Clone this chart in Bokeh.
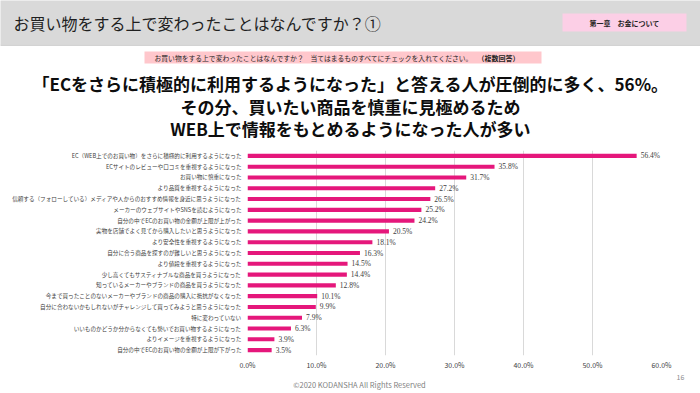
from bokeh.plotting import figure
from bokeh.models import (ColumnDataSource, Range1d, FixedTicker,
                          PrintfTickFormatter, LabelSet, Label)
from bokeh.layouts import column
from bokeh.embed import file_html
from bokeh.resources import INLINE

FONT = "Noto Sans CJK JP"

categories = [
    "EC（WEB上でのお買い物）をさらに積極的に利用するようになった",
    "ECサイトのレビューや口コミを重視するようになった",
    "お買い物に慎重になった",
    "より品質を重視するようになった",
    "信頼する（フォローしている）メディアや人からのおすすめ情報を身近に思うようになった",
    "メーカーのウェブサイトやSNSを読むようになった",
    "自分の中でECのお買い物の金額が上限が上がった",
    "実物を店舗でよく見てから購入したいと思うようになった",
    "より安全性を重視するようになった",
    "自分に合う商品を探すのが難しいと思うようになった",
    "より値段を重視するようになった",
    "少し高くてもサスティナブルな商品を買うようになった",
    "知っているメーカーやブランドの商品を買うようになった",
    "今まで買ったことのないメーカーやブランドの商品の購入に抵抗がなくなった",
    "自分に合わないかもしれないがチャレンジして買ってみようと思うようになった",
    "特に変わっていない",
    "いいものかどうか分からなくても勢いでお買い物するようになった",
    "よりイメージを重視するようになった",
    "自分の中でECのお買い物の金額が上限が下がった",
]
values = [56.4, 35.8, 31.7, 27.2, 26.5, 25.2, 24.2, 20.5, 18.1, 16.3,
          14.5, 14.4, 12.8, 10.1, 9.9, 7.9, 6.3, 3.9, 3.5]
x_ticks = [0, 10, 20, 30, 40, 50, 60]

page_title = "お買い物をする上で変わったことはなんですか？①"
chapter = "第一章　お金について"
question = "お買い物をする上で変わったことはなんですか？　当てはまるものすべてにチェックを入れてください。"
question_note = "（複数回答）"
headline = [
    "「ECをさらに積極的に利用するようになった」と答える人が圧倒的に多く、56%。",
    "その分、買いたい商品を慎重に見極めるため",
    "WEB上で情報をもとめるようになった人が多い",
]
footer_text = "©2020 KODANSHA All Rights Reserved"
page_no = "16"

W = 700

def no_align(f):
    if "frame_align" in f.properties():
        f.frame_align = False
    return f

def blank(h):
    f = figure(width=W, height=h, x_range=Range1d(0, W), y_range=Range1d(h, 0),
               output_backend="svg", toolbar_location=None,
               x_axis_location=None, y_axis_location=None,
               min_border=0, outline_line_color=None,
               background_fill_color="white", border_fill_color="white")
    f.xgrid.visible = False
    f.ygrid.visible = False
    return no_align(f)

def label(f, x, y, text, size, color="#1f1f1f", align="left", bold=False):
    f.add_layout(Label(x=x, y=y, text=text, text_font=FONT, text_font_size=size,
                       text_color=color, text_align=align, text_baseline="middle",
                       text_font_style="bold" if bold else "normal"))

# ---------------- header ----------------
HH = 150
head = blank(HH)
head.quad(left=-2, right=W + 2, top=-2, bottom=44, fill_color="#d9d9d9", line_color=None)
head.quad(left=-2, right=W + 2, top=44, bottom=45.2, fill_color="#c4c4c4", line_color=None)
head.quad(left=562, right=686, top=13, bottom=31, fill_color="#fccfe6", line_color=None)
head.quad(left=144, right=541, top=51, bottom=63, fill_color="#ffc7cc", line_color=None)
label(head, 13, 22, page_title, "16px")
label(head, 624, 22.5, chapter, "7px", align="center", bold=True)
label(head, 154, 57.5, question, "6.8px")
label(head, 477, 57.5, question_note, "7px", bold=True)
for i, line in enumerate(headline):
    label(head, 350, 83 + i * 22.5, line, "17px", color="#0d0d0d",
          align="center", bold=True)

# ---------------- chart ----------------
CH = 222
n = len(categories)
ypos = [n - 1 - i for i in range(n)]          # first category at the top
src = ColumnDataSource(dict(y=ypos, val=values, lab=[f"{v:.1f}%" for v in values]))

p = figure(width=W, height=CH, y_range=Range1d(-0.5, n - 0.5),
           x_range=Range1d(0, 60), output_backend="svg", toolbar_location=None,
           min_border_left=247, min_border_right=39, min_border_top=0,
           min_border_bottom=14, outline_line_color=None,
           background_fill_color="white", border_fill_color="white")
no_align(p)
p.hbar(y="y", right="val", left=0, height=0.38, source=src,
       fill_color="#e5177b", line_color=None)
p.add_layout(LabelSet(x="val", y="y", text="lab", source=src, x_offset=4,
                      text_font=FONT, text_font_size="7.5px", text_color="#404040",
                      text_baseline="middle"))
p.ygrid.visible = False
p.xgrid.grid_line_color = "#d9d9d9"
p.xgrid.grid_line_width = 1
p.xaxis.ticker = FixedTicker(ticks=x_ticks)
p.xaxis.formatter = PrintfTickFormatter(format="%.1f%%")
p.yaxis.ticker = FixedTicker(ticks=ypos)
p.yaxis.major_label_overrides = {y: c for y, c in zip(ypos, categories)}
for ax in (p.xaxis, p.yaxis):
    ax.axis_line_color = None
    ax.major_tick_line_color = None
    ax.minor_tick_line_color = None
    ax.major_tick_out = 0
    ax.major_tick_in = 0
    ax.minor_tick_out = 0
    ax.minor_tick_in = 0
    ax.major_label_text_font = FONT
    ax.major_label_text_color = "#404040"
p.xaxis.major_label_text_font_size = "7px"
p.xaxis.major_label_standoff = 4
p.yaxis.major_label_text_font_size = "5.6px"
p.yaxis.major_label_standoff = 6

# ---------------- footer ----------------
FH = 21
foot = blank(FH)
label(foot, 359, 12, footer_text, "7.5px", color="#7f7f7f", align="center")
label(foot, 680, 4, page_no, "7px", color="#8c8c8c", align="center")

layout = column(head, p, foot, spacing=0)
open("out.html", "w").write(file_html(layout, INLINE))
